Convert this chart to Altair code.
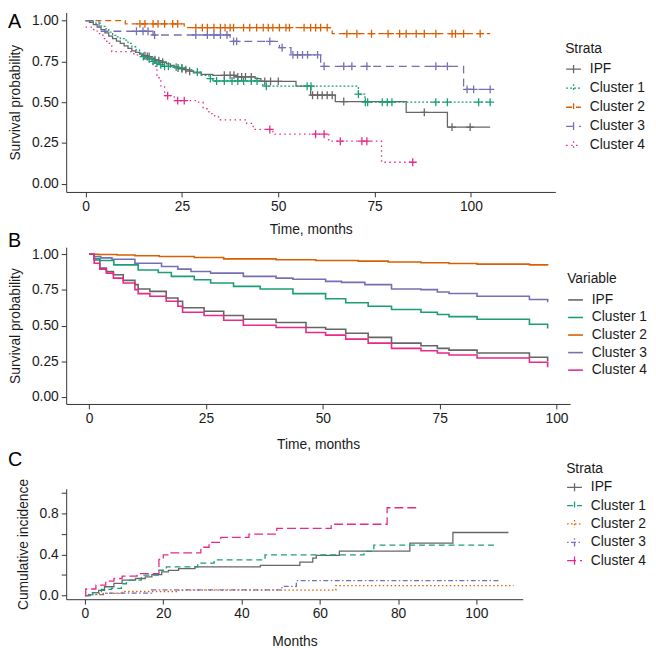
import altair as alt
import numpy as np
import pandas as pd

FONT = "Liberation Sans"
STRATA = ["IPF", "Cluster 1", "Cluster 2", "Cluster 3", "Cluster 4"]
COLORS = ["#666666", "#1B9E77", "#D95F02", "#7570B3", "#E7298A"]

# ---------------- Panel A: Kaplan-Meier by strata (with censor marks) ----------------
A_IPF_T = [0, 1, 2, 3, 4, 5, 6, 7, 8, 9, 10, 11, 12, 13, 14, 15, 16, 17, 18, 19, 20, 21, 22, 23, 24, 25, 26, 27, 28,
           30, 33, 39, 44, 45.5, 54.6, 58.4, 64.8, 83.2, 93.9, 105]
A_IPF_S = [1.0, 0.99, 0.975, 0.96, 0.945, 0.925, 0.905, 0.89, 0.875, 0.86, 0.845, 0.83, 0.815, 0.805, 0.795, 0.785,
           0.78, 0.77, 0.76, 0.755, 0.745, 0.735, 0.725, 0.715, 0.71, 0.705, 0.7, 0.69, 0.68,
           0.67, 0.665, 0.655, 0.645, 0.628, 0.598, 0.543, 0.504, 0.438, 0.347, 0.347]
A_IPF_CENS = [15.4, 16, 16.5, 18, 19, 20, 24, 25, 26, 27, 36, 37.5, 38.5, 39.5, 40.5, 41.5, 43, 46.5, 48, 50,
              58.9, 60.2, 61.4, 62.7, 64, 67, 87.9, 95.1, 99.8]

A_C1_T = [0, 2, 4, 5, 6, 7, 8, 9, 10, 11, 12, 13, 14, 15, 16, 17, 18, 19, 20, 22, 24, 26, 28, 30, 32, 33, 46,
          70.8, 72.5, 105]
A_C1_S = [1.0, 0.985, 0.965, 0.95, 0.93, 0.91, 0.9, 0.89, 0.88, 0.86, 0.84, 0.82, 0.8, 0.78, 0.765, 0.75, 0.74,
          0.73, 0.72, 0.715, 0.71, 0.7, 0.685, 0.665, 0.645, 0.63, 0.598, 0.55, 0.5, 0.5]
A_C1_CENS = [15, 16.5, 17.5, 18.5, 19.5, 20.5, 21.5, 23.5, 25, 29, 32.4, 34, 36, 38, 39.5, 41, 43, 44.5, 46.9,
             57.5, 58.5, 70.8, 72.6, 73.2, 77, 78.3, 79.5, 90.9, 93.9, 102, 105]

A_C2_T = [0, 10.3, 25.6, 64, 105]
A_C2_S = [1.0, 0.98, 0.957, 0.92, 0.92]
A_C2_CENS = [14.1, 15.4, 17.5, 18.8, 20.5, 22.6, 23.9, 28.6, 30.3, 31.6, 33.3, 35, 36.2, 37.5, 38.4, 41, 42.6,
             44.4, 46.1, 47.4, 48.6, 50.3, 52, 52.9, 56.7, 58.4, 59.7, 61, 62.7, 67.8, 70.4, 74.2, 78.5, 81.5,
             83.2, 85.8, 87.9, 90.9, 95.1, 96, 98.1, 102.4]

A_C3_T = [0, 3.5, 17.5, 37.5, 50.3, 53.3, 61, 98.1, 105]
A_C3_S = [1.0, 0.935, 0.912, 0.873, 0.834, 0.79, 0.72, 0.579, 0.579]
A_C3_CENS = [13.2, 14.9, 16.2, 17.9, 28.6, 31.6, 33.3, 35, 36.7, 38.4, 39.2, 47.8, 51, 53.8, 55, 56.3, 57.6,
             60.2, 61.9, 67, 69.1, 73, 90.9, 93.9, 99, 100.7, 105]

A_C4_T = [0, 1.5, 3, 4.5, 5.5, 6.8, 12.5, 15, 17.5, 18.5, 19.5, 20.5, 23, 29, 30.5, 32, 33.5, 35, 41.8, 43.5,
          48.6, 63.1, 76.8, 84.9]
A_C4_S = [0.96, 0.945, 0.92, 0.89, 0.86, 0.81, 0.79, 0.77, 0.72, 0.65, 0.6, 0.54, 0.51, 0.5, 0.46, 0.43, 0.41,
          0.392, 0.37, 0.333, 0.304, 0.261, 0.132, 0.132]
A_C4_CENS = [21.3, 23.9, 25.6, 47.8, 59.7, 61.9, 66.1, 71.7, 73, 84.9]

# ---------------- Panel B: model-based survival curves ----------------
B_IPF_T = [0, 1.1, 2.3, 3.7, 5.2, 7.3, 9.8, 10.5, 13, 16.5, 19, 20, 24.6, 28.8, 33, 40, 46.4, 50.6, 54.9, 59.7,
           64.7, 71, 74.5, 77, 83, 94.2, 98.1]
B_IPF_S = [1.0, 0.96, 0.903, 0.879, 0.856, 0.817, 0.787, 0.757, 0.74, 0.694, 0.671, 0.625, 0.601, 0.571, 0.544,
           0.521, 0.486, 0.474, 0.446, 0.417, 0.377, 0.358, 0.34, 0.328, 0.308, 0.278, 0.25]
B_C1_T = [0, 1, 2.3, 5.3, 10.5, 14.8, 17.6, 22.5, 26, 30.9, 36.6, 43.6, 50.6, 54.9, 59.7, 64.7, 71, 74.5, 77, 83,
          94.2, 98.1]
B_C1_S = [1.0, 0.97, 0.956, 0.926, 0.89, 0.872, 0.845, 0.822, 0.799, 0.775, 0.757, 0.724, 0.688, 0.66, 0.636,
          0.613, 0.594, 0.578, 0.563, 0.544, 0.509, 0.479]
B_C2_T = [0, 2, 6, 9.8, 15, 22.5, 28.8, 40, 48.5, 57.6, 64, 71, 77, 83, 94.2, 98.1]
B_C2_S = [1.0, 0.998, 0.995, 0.99, 0.985, 0.977, 0.968, 0.962, 0.957, 0.952, 0.946, 0.941, 0.936, 0.931, 0.926,
          0.924]
B_C3_T = [0, 1, 2.5, 4.9, 9.8, 15.5, 19, 21.8, 26, 33, 40, 43.6, 50.6, 54, 59, 64.7, 71, 74.5, 77, 83, 94.2, 98.1]
B_C3_S = [1.0, 0.985, 0.975, 0.965, 0.937, 0.914, 0.896, 0.879, 0.868, 0.845, 0.833, 0.825, 0.81, 0.803, 0.787,
          0.757, 0.752, 0.736, 0.725, 0.706, 0.683, 0.664]
B_C4_T = [0, 1.1, 2.3, 3.7, 5.2, 7.3, 9.8, 10.5, 13, 16.5, 19, 20, 24.6, 28.8, 33, 40, 46.4, 50.6, 54.9, 59.7,
          64.7, 71, 74.5, 77, 83, 94.2, 98.1]
B_C4_S = [1.0, 0.937, 0.896, 0.868, 0.833, 0.799, 0.752, 0.724, 0.706, 0.671, 0.636, 0.594, 0.571, 0.537, 0.502,
          0.486, 0.451, 0.433, 0.405, 0.377, 0.34, 0.323, 0.308, 0.294, 0.273, 0.243, 0.208]

# ---------------- Panel C: cumulative incidence ----------------
C_IPF_T = [0, 1, 2, 3.5, 5, 7.4, 9.5, 12.9, 15.4, 17.1, 19.6, 21.3, 23.9, 28.1, 44.8, 54.9, 58.2, 59.1, 65, 83,
           94, 108.2]
C_IPF_CI = [0, 0.01, 0.03, 0.05, 0.086, 0.118, 0.15, 0.166, 0.182, 0.204, 0.23, 0.245, 0.261, 0.278, 0.293, 0.325,
            0.364, 0.39, 0.431, 0.51, 0.612, 0.612]
C_C1_T = [0, 1.7, 4.2, 6.8, 9.3, 10.6, 14.4, 18.7, 20.8, 28.8, 33, 46, 71.3, 73.8, 105.3]
C_C1_CI = [0, 0.03, 0.06, 0.07, 0.115, 0.15, 0.198, 0.246, 0.278, 0.316, 0.347, 0.395, 0.43, 0.49, 0.49]
C_C2_T = [0, 1, 3, 9.5, 24, 64.1, 109.5]
C_C2_CI = [0, 0.011, 0.022, 0.04, 0.054, 0.096, 0.096]
C_C3_T = [0, 0.6, 5, 17, 50.3, 54, 106]
C_C3_CI = [0, 0.01, 0.025, 0.055, 0.09, 0.146, 0.146]
C_C4_T = [0, 0.2, 2.8, 5.3, 7.4, 9.5, 13.3, 18.9, 20, 22, 29.6, 31.7, 34.7, 41.9, 49, 62.9, 77.2, 85.1]
C_C4_CI = [0, 0.064, 0.102, 0.141, 0.166, 0.19, 0.213, 0.351, 0.395, 0.414, 0.469, 0.517, 0.565, 0.596, 0.651,
           0.692, 0.852, 0.852]


def lines_df(series, field):
    rows = []
    for name, (T, S) in zip(STRATA, series):
        for i, (t, s) in enumerate(zip(T, S)):
            rows.append({field: name, "t": t, "v": s, "i": i})
    return pd.DataFrame(rows)


def censor_df(series, cens, field):
    rows = []
    for name, (T, S), C in zip(STRATA, series, cens):
        T = np.asarray(T)
        for c in C:
            idx = int(np.searchsorted(T, c, side="right") - 1)
            rows.append({field: name, "t": c, "v": S[idx]})
    return pd.DataFrame(rows)


A_SERIES = [(A_IPF_T, A_IPF_S), (A_C1_T, A_C1_S), (A_C2_T, A_C2_S), (A_C3_T, A_C3_S), (A_C4_T, A_C4_S)]
A_CENS = [A_IPF_CENS, A_C1_CENS, A_C2_CENS, A_C3_CENS, A_C4_CENS]
B_SERIES = [(B_IPF_T, B_IPF_S), (B_C1_T, B_C1_S), (B_C2_T, B_C2_S), (B_C3_T, B_C3_S), (B_C4_T, B_C4_S)]
C_SERIES = [(C_IPF_T, C_IPF_CI), (C_C1_T, C_C1_CI), (C_C2_T, C_C2_CI), (C_C3_T, C_C3_CI), (C_C4_T, C_C4_CI)]

dfA = lines_df(A_SERIES, "Strata")
dfA_c = censor_df(A_SERIES, A_CENS, "Strata")
dfB = lines_df(B_SERIES, "Variable")
dfC = lines_df(C_SERIES, "Strata")

PLUS = "M-1,0L1,0M0,-1L0,1"
LEG_PLUS = "M-1,0L1,0M0,-0.55L0,0.55"

DASH_A = [[1, 0], [2, 2], [6, 4], [8, 5], [1.5, 3.5]]
DASH_C = [[1, 0], [6, 4], [1.5, 2.5], [1.5, 2.5, 5, 2.5], [9, 4]]


def letter(ch, yv):
    return alt.Chart(pd.DataFrame({"lab": [ch]})).mark_text(
        align="left", baseline="middle", fontSize=20, font=FONT, color="#000000"
    ).encode(text="lab:N", x=alt.value(-59), y=alt.value(yv))


def legend(title, lx, ly, sym, rowpad, sw, titlepad):
    return alt.Legend(title=title, orient="none", legendX=lx, legendY=ly, direction="vertical",
                      symbolType=sym, symbolSize=225, symbolStrokeWidth=sw, rowPadding=rowpad,
                      titlePadding=titlepad, labelOffset=8, padding=0)


# ---- Panel A ----
xA = alt.X("t:Q", scale=alt.Scale(domain=[-5.04, 121.9], nice=False, zero=False),
           axis=alt.Axis(values=[0, 25, 50, 75, 100], title="Time, months", titlePadding=9))
yA = alt.Y("v:Q", scale=alt.Scale(domain=[-0.05, 1.05], nice=False, zero=False),
           axis=alt.Axis(values=[0, 0.25, 0.5, 0.75, 1.0], format=".2f", title="Survival probability"))
legA = legend("Strata", 506, 30, LEG_PLUS, 3.3, 1.3, 5)
colA = alt.Color("Strata:N", scale=alt.Scale(domain=STRATA, range=COLORS), legend=legA)

linesA = alt.Chart(dfA).mark_line(interpolate="step-after", strokeWidth=1.3).encode(
    x=xA, y=yA, color=colA,
    strokeDash=alt.StrokeDash("Strata:N", scale=alt.Scale(domain=STRATA, range=DASH_A), legend=None),
    order="i:Q")
censA = alt.Chart(dfA_c).mark_point(shape=PLUS, size=64, filled=False, strokeWidth=1.3, opacity=1).encode(
    x=xA, y=yA, color=colA)
panelA = alt.layer(linesA, censA, letter("A", 10)).properties(width=496, height=182)

# ---- Panel B ----
xB = alt.X("t:Q", scale=alt.Scale(domain=[-4.9, 102.9], nice=False, zero=False),
           axis=alt.Axis(values=[0, 25, 50, 75, 100], title="Time, months", titlePadding=12))
yB = alt.Y("v:Q", scale=alt.Scale(domain=[-0.05, 1.05], nice=False, zero=False),
           axis=alt.Axis(values=[0, 0.25, 0.5, 0.75, 1.0], format=".2f", title="Survival probability"))
legB = legend("Variable", 508, 25, "stroke", 1.8, 1.6, 6)
linesB = alt.Chart(dfB).mark_line(interpolate="step-after", strokeWidth=1.6).encode(
    x=xB, y=yB,
    color=alt.Color("Variable:N", scale=alt.Scale(domain=STRATA, range=COLORS), legend=legB),
    order="i:Q")
panelB = alt.layer(linesB, letter("B", -6.5)).properties(width=511, height=159)

# ---- Panel C ----
xC = alt.X("t:Q", scale=alt.Scale(domain=[-4.8, 111.85], nice=False, zero=False),
           axis=alt.Axis(values=[0, 20, 40, 60, 80, 100], title="Months", titlePadding=14))
yC = alt.Y("v:Q", scale=alt.Scale(domain=[-0.035, 1.036], nice=False, zero=False),
           axis=alt.Axis(values=[0, 0.2, 0.4, 0.6, 0.8, 1.0], title="Cumulative incidence",
                         labelExpr="(abs(datum.value) < 0.01 || abs(datum.value - 0.4) < 0.01 || abs(datum.value - 0.8) < 0.01) ? format(datum.value, '.1f') : ''"))
legC = legend("Strata", 507, -27, LEG_PLUS, 2.6, 1.3, 3)
linesC = alt.Chart(dfC).mark_line(interpolate="step-after", strokeWidth=1.3).encode(
    x=xC, y=yC,
    color=alt.Color("Strata:N", scale=alt.Scale(domain=STRATA, range=COLORS), legend=legC),
    strokeDash=alt.StrokeDash("Strata:N", scale=alt.Scale(domain=STRATA, range=DASH_C), legend=None),
    order="i:Q")
panelC = alt.layer(linesC, letter("C", -29)).properties(width=463, height=112)


def spacer(h):
    return alt.Chart(pd.DataFrame({"z": [0]})).mark_text(text="", opacity=0).encode(
        x=alt.value(0), y=alt.value(0)).properties(width=10, height=h)


chart = alt.vconcat(panelA, spacer(56), panelB, spacer(86), panelC, spacing=0, bounds="flush").resolve_scale(
    color="independent", strokeDash="independent"
).resolve_legend(color="independent", strokeDash="independent").properties(
    padding=0
).configure_view(stroke=None).configure_axis(
    grid=False, domainColor="#333333", tickColor="#333333", labelColor="#1a1a1a", titleColor="#1a1a1a",
    labelFont=FONT, titleFont=FONT, labelFontSize=14, titleFontSize=14, titleFontWeight="normal",
    tickSize=5, labelPadding=3, titlePadding=9, domainWidth=1, tickWidth=1
).configure_legend(
    labelFont=FONT, titleFont=FONT, labelFontSize=14, titleFontSize=14, titleFontWeight="normal",
    labelColor="#1a1a1a", titleColor="#1a1a1a"
)

chart.save("out.html", embed_options={"renderer": "svg", "actions": False})
